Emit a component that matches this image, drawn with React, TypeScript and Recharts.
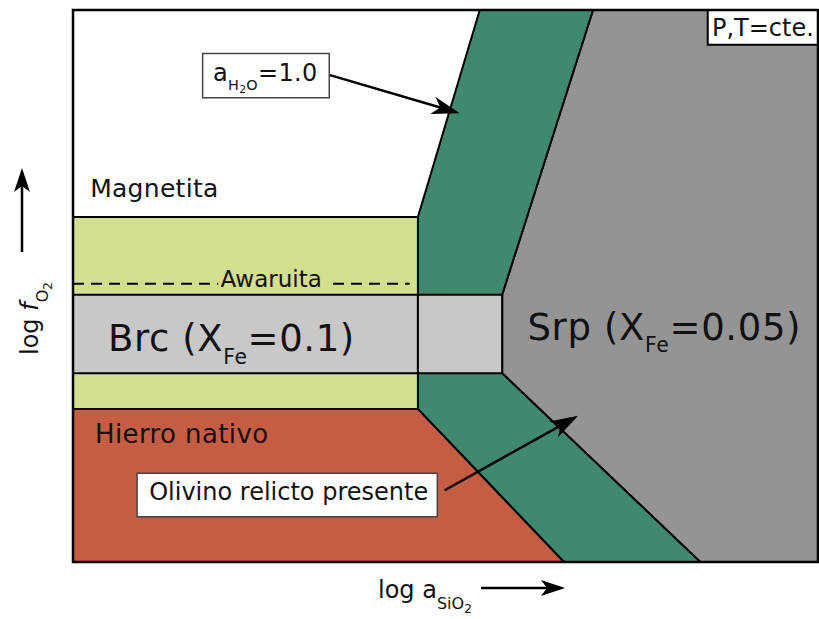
import { ComposedChart, Scatter, XAxis, YAxis } from "recharts";

type Pt = { x: number; y: number };

// Diagram units: 0-100 on both axes (schematic, no real values)
const srpField: Pt[] = [
  { x: 57.6, y: 34.2 },
  { x: 84.2, y: 0 },
  { x: 100, y: 0 },
  { x: 100, y: 100 },
  { x: 69.8, y: 100 },
  { x: 57.6, y: 48.4 },
];
const olivineBand: Pt[] = [
  { x: 46.3, y: 27.7 },
  { x: 65.9, y: 0 },
  { x: 84.2, y: 0 },
  { x: 57.6, y: 34.2 },
  { x: 57.6, y: 48.4 },
  { x: 69.8, y: 100 },
  { x: 54.6, y: 100 },
  { x: 46.3, y: 62.5 },
];
const ironField: Pt[] = [
  { x: 0, y: 0 },
  { x: 65.9, y: 0 },
  { x: 46.3, y: 27.7 },
  { x: 0, y: 27.7 },
];
const awaruiteField: Pt[] = [
  { x: 0, y: 27.7 },
  { x: 46.3, y: 27.7 },
  { x: 46.3, y: 62.5 },
  { x: 0, y: 62.5 },
];
const bruciteField: Pt[] = [
  { x: 0, y: 34.2 },
  { x: 46.3, y: 34.2 },
  { x: 46.3, y: 48.4 },
  { x: 0, y: 48.4 },
];
const bruciteGap: Pt[] = [
  { x: 46.3, y: 34.2 },
  { x: 57.6, y: 34.2 },
  { x: 57.6, y: 48.4 },
  { x: 46.3, y: 48.4 },
];
const awaruiteLeft: Pt[] = [
  { x: 0, y: 50.4 },
  { x: 19.5, y: 50.4 },
];
const awaruiteRight: Pt[] = [
  { x: 34.9, y: 50.4 },
  { x: 45.2, y: 50.4 },
];
const waterBox: Pt[] = [
  { x: 17.4, y: 84.1 },
  { x: 34.4, y: 84.1 },
  { x: 34.4, y: 92.1 },
  { x: 17.4, y: 92.1 },
];
const olivineBox: Pt[] = [
  { x: 8.6, y: 8.2 },
  { x: 48.9, y: 8.2 },
  { x: 48.9, y: 16.1 },
  { x: 8.6, y: 16.1 },
];
const ptBox: Pt[] = [
  { x: 85.2, y: 93.7 },
  { x: 100, y: 93.7 },
  { x: 100, y: 100 },
  { x: 85.2, y: 100 },
];
const waterArrow: Pt[] = [
  { x: 34.5, y: 88.2 },
  { x: 51.9, y: 81.3 },
];
const olivineArrow: Pt[] = [
  { x: 49.9, y: 13.0 },
  { x: 67.8, y: 26.5 },
];
const frame: Pt[] = [
  { x: 0, y: 0 },
  { x: 100, y: 0 },
  { x: 100, y: 100 },
  { x: 0, y: 100 },
];

// text parts: [text, level] where level 0 normal, 1 subscript, 2 sub-subscript
type Part = [string, number?];
type Label = { x: number; y: number; size: number; anchor?: string; spacing?: number; sub?: number; parts: Part[] };

const labels: Label[] = [
  { x: 2.3, y: 66.2, size: 25, spacing: 0.3, parts: [["Magnetita"]] },
  { x: 26.6, y: 49.8, size: 23, anchor: "middle", parts: [["Awaruita"]] },
  { x: 4.7, y: 38.3, size: 37, spacing: 0.6, parts: [["Brc (X"], ["Fe", 1], ["=0.1)"]] },
  { x: 61.0, y: 40.3, size: 37, spacing: 0.65, parts: [["Srp (X"], ["Fe", 1], ["=0.05)"]] },
  { x: 2.95, y: 21.5, size: 26, spacing: 0.4, parts: [["Hierro nativo"]] },
  { x: 28.95, y: 11.2, size: 24, anchor: "middle", parts: [["Olivino relicto presente"]] },
  { x: 18.8, y: 87.1, size: 24, spacing: 0.3, sub: 0.6, parts: [["a"], ["H", 1], ["2", 2], ["O", 1], ["=1.0"]] },
  { x: 92.6, y: 95.3, size: 24, anchor: "middle", parts: [["P,T=cte."]] },
];

const FONT = "'DejaVu Sans', Verdana, sans-serif";
const none = () => <g />;

const toPoints = (pts: Pt[]) => pts.map((p) => `${p.x},${p.y}`).join(" ");

const filledLine = (fill: string, stroke: string, width: number) => (props: any) => (
  <polygon
    points={toPoints(props.points || [])}
    fill={fill}
    stroke={stroke}
    strokeWidth={width}
    strokeLinejoin="miter"
  />
);

const dashedLine = (props: any) => (
  <polyline
    points={toPoints(props.points || [])}
    fill="none"
    stroke="#000"
    strokeWidth={2}
    strokeDasharray="11 7"
  />
);

const arrowLine = (props: any) => {
  const [a, b] = props.points || [];
  if (!a || !b) return <g />;
  const ang = Math.atan2(b.y - a.y, b.x - a.x);
  const ux = Math.cos(ang);
  const uy = Math.sin(ang);
  const head = 28;
  const half = 9;
  const bx = b.x - ux * head;
  const by = b.y - uy * head;
  const nx = b.x - ux * head * 0.72;
  const ny = b.y - uy * head * 0.72;
  const l = { x: bx - uy * half, y: by + ux * half };
  const r = { x: bx + uy * half, y: by - ux * half };
  return (
    <g>
      <line x1={a.x} y1={a.y} x2={nx} y2={ny} stroke="#000" strokeWidth={2.5} />
      <polygon points={toPoints([b, l, { x: nx, y: ny }, r])} fill="#000" />
    </g>
  );
};

const renderParts = (parts: Part[], size: number, subRatio: number) => {
  let shift = 0;
  return parts.map(([t, level = 0], i) => {
    const fs = level === 0 ? size : level === 1 ? size * subRatio : size * 0.45;
    const target = level === 0 ? 0 : level === 1 ? size * 0.35 : size * 0.5;
    const dy = target - shift;
    shift = target;
    return (
      <tspan key={i} fontSize={fs} dy={dy}>
        {t}
      </tspan>
    );
  });
};

const labelShape = (props: any) => {
  const l: Label = props.payload;
  return (
    <text
      x={props.cx}
      y={props.cy}
      fontFamily={FONT}
      fontSize={l.size}
      letterSpacing={l.spacing || 0}
      textAnchor={l.anchor || "start"}
      fill="#111"
    >
      {renderParts(l.parts, l.size, l.sub || 0.55)}
    </text>
  );
};

const xTitle = (props: any) => {
  const { x, y } = props.viewBox;
  const ay = y + 26;
  return (
    <g>
      <text x={x + 305} y={y + 36} fontFamily={FONT} fontSize={24} fill="#111">
        log a
        <tspan fontSize={16} dy={11}>SiO</tspan>
        <tspan fontSize={12} dy={4}>2</tspan>
      </text>
      <line x1={x + 408} y1={ay} x2={x + 474} y2={ay} stroke="#000" strokeWidth={2.5} />
      <polygon
        points={toPoints([
          { x: x + 492, y: ay },
          { x: x + 468, y: ay - 8 },
          { x: x + 474, y: ay },
          { x: x + 468, y: ay + 8 },
        ])}
        fill="#000"
      />
    </g>
  );
};

const yTitle = (props: any) => {
  const { x, y } = props.viewBox;
  const tx = x + 38;
  const ty = y + 345;
  const ax = x + 22;
  return (
    <g>
      <text
        x={tx}
        y={ty}
        fontFamily={FONT}
        fontSize={24}
        fill="#111"
        transform={`rotate(-90, ${tx}, ${ty})`}
      >
        {"log "}
        <tspan fontStyle="italic">f</tspan>
        <tspan fontSize={16} dy={10}>O</tspan>
        <tspan fontSize={12} dy={4}>2</tspan>
      </text>
      <line x1={ax} y1={y + 242} x2={ax} y2={y + 176} stroke="#000" strokeWidth={2.5} />
      <polygon
        points={toPoints([
          { x: ax, y: y + 158 },
          { x: ax - 8, y: y + 182 },
          { x: ax, y: y + 176 },
          { x: ax + 8, y: y + 182 },
        ])}
        fill="#000"
      />
    </g>
  );
};

const field = (key: string, data: Pt[], fill: string, stroke = "#000", width = 2) => (
  <Scatter
    key={key}
    data={data}
    line={filledLine(fill, stroke, width)}
    lineType="joint"
    shape={none}
    isAnimationActive={false}
  />
);

export default function App() {
  return (
    <div style={{ position: "absolute", left: 0, top: 0, background: "#fff" }}>
      <ComposedChart width={819} height={619} margin={{ top: 10, right: 1, bottom: 0, left: 0 }}>
        <XAxis
          type="number"
          dataKey="x"
          domain={[0, 100]}
          tick={false}
          tickLine={false}
          axisLine={false}
          height={57}
          label={xTitle}
        />
        <YAxis
          type="number"
          dataKey="y"
          domain={[0, 100]}
          tick={false}
          tickLine={false}
          axisLine={false}
          width={73}
          label={yTitle}
        />
        {field("srp", srpField, "#949494")}
        {field("olv", olivineBand, "#3f8a6f")}
        {field("iron", ironField, "#c65c41")}
        {field("awr", awaruiteField, "#d3de8e")}
        {field("brc", bruciteField, "#c8c8c8")}
        {field("gap", bruciteGap, "#c8c8c8")}
        <Scatter data={awaruiteLeft} line={dashedLine} lineType="joint" shape={none} isAnimationActive={false} />
        <Scatter data={awaruiteRight} line={dashedLine} lineType="joint" shape={none} isAnimationActive={false} />
        {field("wbox", waterBox, "#fff", "#444", 1.5)}
        {field("obox", olivineBox, "#fff", "#444", 1.5)}
        {field("ptbox", ptBox, "#fff", "#000", 2)}
        <Scatter data={waterArrow} line={arrowLine} lineType="joint" shape={none} isAnimationActive={false} />
        <Scatter data={olivineArrow} line={arrowLine} lineType="joint" shape={none} isAnimationActive={false} />
        {field("frame", frame, "none", "#000", 2.5)}
        <Scatter data={labels} shape={labelShape} isAnimationActive={false} />
      </ComposedChart>
    </div>
  );
}
